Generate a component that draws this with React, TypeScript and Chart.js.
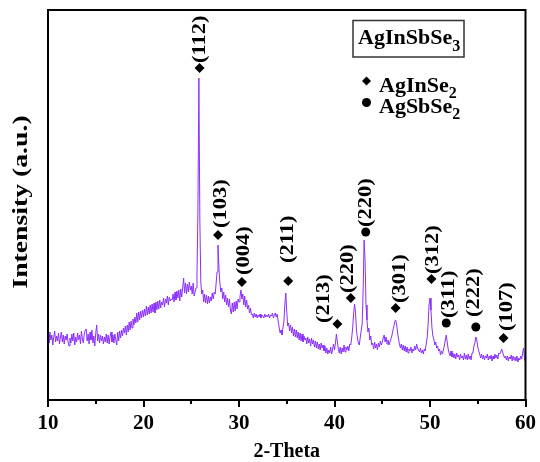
import React, { useEffect, useRef } from "react";
import { Chart, registerables } from "chart.js";

Chart.register(...registerables);

// ---- data (2-Theta scan from 10 to 60 deg, step 0.1) ----
const startAngle = 10;
const angleStep = 0.1;
const intensity: number[] = [
  66, 57, 68, 60, 65, 55, 63, 69, 58, 64, // 10
  59, 67, 56, 63, 68, 58, 65, 56, 64, 60, // 11
  66, 58, 54, 62, 57, 66, 59, 67, 55, 63, // 12
  58, 67, 60, 65, 56, 69, 61, 57, 66, 70, // 13
  71, 59, 66, 56, 68, 60, 70, 57, 64, 54, // 14
  67, 75, 59, 66, 57, 65, 59, 64, 56, 63, // 15
  58, 66, 57, 65, 56, 63, 68, 58, 65, 57, // 16
  66, 60, 55, 68, 59, 69, 62, 70, 64, 72, // 17
  67, 74, 65, 75, 68, 78, 70, 79, 72, 81, // 18
  75, 83, 77, 87, 78, 88, 80, 89, 82, 90, // 19
  83, 91, 84, 94, 85, 93, 86, 95, 87, 96, // 20
  88, 97, 87, 98, 90, 99, 91, 100, 92, 98, // 21
  95, 102, 93, 101, 97, 104, 95, 103, 99, 101, // 22
  100, 106, 98, 108, 100, 109, 102, 110, 99, 111, // 23
  103, 112, 122, 107, 117, 106, 116, 108, 118, 110, // 24
  114, 106, 117, 104, 108, 112, 125, 190, 322, 180, // 25
  118, 106, 110, 98, 106, 97, 105, 96, 104, 97, // 26
  103, 99, 107, 101, 108, 106, 116, 128, 155, 132, // 27
  117, 108, 112, 101, 108, 98, 105, 95, 102, 93, // 28
  101, 90, 86, 97, 88, 98, 89, 99, 91, 101, // 29
  98, 103, 110, 101, 106, 95, 104, 93, 100, 91, // 30
  95, 87, 92, 85, 86, 82, 87, 83, 86, 82, // 31
  85, 83, 86, 82, 85, 84, 82, 86, 83, 85, // 32
  83, 86, 82, 85, 84, 87, 82, 85, 87, 83, // 33
  86, 79, 73, 67, 70, 65, 72, 78, 95, 107, // 34
  88, 74, 77, 69, 75, 67, 73, 64, 71, 63, // 35
  70, 62, 68, 60, 67, 59, 66, 58, 64, 60, // 36
  62, 56, 63, 57, 61, 54, 62, 56, 60, 53, // 37
  59, 52, 58, 51, 56, 50, 57, 52, 55, 49, // 38
  54, 47, 52, 46, 50, 47, 53, 46, 51, 56, // 39
  50, 57, 66, 58, 51, 47, 53, 46, 52, 48, // 40
  55, 48, 53, 50, 54, 49, 56, 55, 62, 72, // 41
  86, 96, 88, 70, 62, 57, 55, 63, 70, 76, // 42
  110, 160, 140, 95, 80, 68, 72, 60, 64, 55, // 43
  57, 51, 58, 52, 56, 50, 57, 53, 59, 55, // 44
  58, 62, 65, 58, 63, 56, 60, 55, 58, 61, // 45
  64, 69, 73, 78, 80, 76, 68, 61, 56, 52, // 46
  56, 50, 55, 49, 54, 48, 53, 47, 51, 49, // 47
  53, 47, 51, 49, 54, 50, 56, 52, 50, 48, // 48
  52, 47, 50, 46, 51, 49, 56, 62, 75, 95, // 49
  102, 90, 73, 64, 61, 55, 58, 52, 54, 49, // 50
  51, 45, 49, 46, 50, 54, 60, 65, 58, 51, // 51
  47, 44, 49, 43, 47, 42, 46, 41, 47, 43, // 52
  45, 40, 46, 42, 44, 40, 47, 41, 45, 40, // 53
  46, 41, 44, 40, 47, 48, 54, 57, 63, 60, // 54
  53, 49, 46, 42, 46, 41, 45, 40, 44, 42, // 55
  46, 40, 44, 41, 45, 39, 44, 41, 46, 42, // 56
  45, 41, 47, 46, 48, 51, 48, 45, 42, 44, // 57
  40, 44, 39, 43, 41, 45, 39, 44, 40, 43, // 58
  39, 44, 38, 42, 40, 44, 41, 47, 52, 41, // 59
  38, // 60
];

// AgInSe2 reflections (diamonds)
const inSe2Angles = [25.87, 27.8, 30.3, 35.15, 40.3, 41.7, 46.4, 50.15, 57.7];
const inSe2Heights = [332, 165, 118, 119, 76, 102, 92, 121, 62];
const inSe2Labels = ["(112)", "(103)", "(004)", "(211)", "(213)", "(220)", "(301)", "(312)", "(107)"];

// AgSbSe2 reflections (circles)
const sbSe2Angles = [43.27, 51.7, 54.8];
const sbSe2Heights = [168, 77, 73];
const sbSe2Labels = ["(220)", "(311)", "(222)"];

const xTicks = [10, 20, 30, 40, 50, 60];
const xMinorTicks = [15, 25, 35, 45, 55];

// ---- styling ----
const SERIF = "'Liberation Serif', 'Times New Roman', serif";
const LINE_COLOR = "#8a30ff";
// label shifts [dx, gap above marker] in px
const inSe2LabelShift = [[0, 5], [3, 7], [2, 7], [0, 18], [-14, 1], [-3, 5], [4, 5], [1, 5], [3, 7]];
const sbSe2LabelShift = [[0, 5], [3, 5], [-2, 10]];

function drawSubText(ctx: CanvasRenderingContext2D, main: string, sub: string, x: number, y: number, size: number, subSize: number, subDrop: number) {
  ctx.textAlign = "left";
  ctx.textBaseline = "alphabetic";
  ctx.font = `bold ${size}px ${SERIF}`;
  ctx.fillText(main, x, y);
  const w = ctx.measureText(main).width;
  ctx.font = `bold ${subSize}px ${SERIF}`;
  ctx.fillText(sub, x + w, y + subDrop);
}

const decorPlugin = {
  id: "decor",
  afterDraw(chart: any) {
    const { ctx, chartArea: a, scales } = chart;
    const xs = scales.x;
    const ys = scales.y;
    ctx.save();
    ctx.fillStyle = "#000";
    ctx.strokeStyle = "#000";

    // frame
    ctx.lineWidth = 2;
    ctx.strokeRect(a.left, a.top, a.right - a.left, a.bottom - a.top);

    // minor ticks
    ctx.lineWidth = 2;
    xMinorTicks.forEach((v) => {
      const px = Math.round(xs.getPixelForValue(v));
      ctx.beginPath();
      ctx.moveTo(px, a.bottom);
      ctx.lineTo(px, a.bottom + 4);
      ctx.stroke();
    });

    // peak labels
    const drawLabels = (angles: number[], heights: number[], labels: string[], shifts: number[][]) => {
      angles.forEach((ang, i) => {
        const px = xs.getPixelForValue(ang) + shifts[i][0];
        const py = ys.getPixelForValue(heights[i]) - shifts[i][1];
        ctx.save();
        ctx.translate(px, py);
        ctx.rotate(-Math.PI / 2);
        ctx.scale(1.25, 1);
        ctx.font = `bold 18px ${SERIF}`;
        ctx.textAlign = "left";
        ctx.textBaseline = "middle";
        ctx.fillText(labels[i], 0, 0.5);
        ctx.restore();
      });
    };
    drawLabels(inSe2Angles, inSe2Heights, inSe2Labels, inSe2LabelShift);
    drawLabels(sbSe2Angles, sbSe2Heights, sbSe2Labels, sbSe2LabelShift);

    // y title
    ctx.save();
    ctx.translate(21, (a.top + a.bottom) / 2 - 3);
    ctx.rotate(-Math.PI / 2);
    ctx.scale(1.26, 1);
    ctx.font = `bold 22px ${SERIF}`;
    ctx.textAlign = "center";
    ctx.textBaseline = "middle";
    ctx.fillText("Intensity (a.u.)", 0, 0);
    ctx.restore();

    // x title
    ctx.font = `bold 20px ${SERIF}`;
    ctx.textAlign = "center";
    ctx.textBaseline = "alphabetic";
    ctx.fillText("2-Theta", (a.left + a.right) / 2, 457);

    // legend box
    ctx.lineWidth = 1.5;
    ctx.strokeStyle = "#333";
    ctx.strokeRect(353, 20.5, 111, 36.5);
    drawSubText(ctx, "AgInSbSe", "3", 358, 43.5, 22, 16, 7.5);

    // legend markers
    ctx.fillStyle = "#000";
    ctx.beginPath();
    const dx = 366.5, dy = 81, r = 4.5;
    ctx.moveTo(dx, dy - r);
    ctx.lineTo(dx + r, dy);
    ctx.lineTo(dx, dy + r);
    ctx.lineTo(dx - r, dy);
    ctx.closePath();
    ctx.fill();
    ctx.beginPath();
    ctx.arc(366.5, 102.5, 4.5, 0, Math.PI * 2);
    ctx.fill();
    drawSubText(ctx, "AgInSe", "2", 379, 91.5, 22, 16, 6);
    drawSubText(ctx, "AgSbSe", "2", 379, 113, 22, 16, 6);

    ctx.restore();
  },
};

export default function App() {
  const ref = useRef<HTMLCanvasElement>(null);
  useEffect(() => {
    const angles = intensity.map((_, i) => Math.round((startAngle + i * angleStep) * 100) / 100);
    const chart = new Chart(ref.current as HTMLCanvasElement, {
      type: "scatter",
      data: {
        datasets: [
          {
            type: "line",
            data: angles.map((ang, i) => ({ x: ang, y: intensity[i] })),
            borderColor: LINE_COLOR,
            borderWidth: 1,
            pointRadius: 0,
            tension: 0,
            fill: false,
          } as any,
          {
            data: inSe2Angles.map((ang, i) => ({ x: ang, y: inSe2Heights[i] })),
            pointStyle: "rectRot",
            pointRadius: 5,
            backgroundColor: "#000",
            borderWidth: 0,
            showLine: false,
          },
          {
            data: sbSe2Angles.map((ang, i) => ({ x: ang, y: sbSe2Heights[i] })),
            pointStyle: "circle",
            pointRadius: 4.5,
            backgroundColor: "#000",
            borderWidth: 0,
            showLine: false,
          },
        ],
      },
      options: {
        responsive: false,
        animation: false,
        devicePixelRatio: 1,
        layout: { padding: { top: 10, right: 13, left: 0, bottom: 0 } },
        plugins: { legend: { display: false }, tooltip: { enabled: false } },
        scales: {
          x: {
            type: "linear",
            min: 10,
            max: 60,
            afterFit: (s: any) => {
              s.height = 62;
            },
            afterBuildTicks: (s: any) => {
              s.ticks = xTicks.map((v) => ({ value: v }));
            },
            ticks: {
              color: "#000",
              font: { family: SERIF, size: 21, weight: "bold" },
              padding: 4,
              maxRotation: 0,
            },
            grid: {
              display: true,
              drawOnChartArea: false,
              drawTicks: true,
              tickLength: 7,
              color: "#000",
              lineWidth: 2,
            },
            border: { display: true, color: "#000", width: 2 },
          },
          y: {
            type: "linear",
            min: 0,
            max: 390,
            afterFit: (s: any) => {
              s.width = 48;
            },
            ticks: { display: false },
            grid: { display: false, drawTicks: false },
            border: { display: true, color: "#000", width: 2 },
          },
        },
      },
      plugins: [decorPlugin],
    });
    return () => chart.destroy();
  }, []);
  return (
    <div style={{ position: "fixed", left: 0, top: 0, width: 540, height: 462, background: "#fff" }}>
      <canvas ref={ref} width={540} height={462} style={{ display: "block" }} />
    </div>
  );
}
